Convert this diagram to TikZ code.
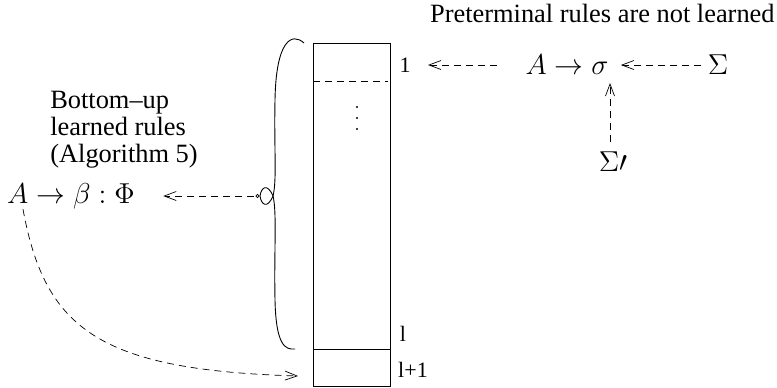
\documentclass[tikz,border=0pt]{standalone}
\usepackage[no-math]{fontspec}
\setmainfont{Liberation Serif}
\usetikzlibrary{arrows.meta}
\usetikzlibrary{positioning}

\begin{document}
\begin{tikzpicture}[x=0.5pt,y=-0.5pt]
  \tikzstyle{link}=[dash pattern=on 3.5pt off 2.5pt,-{Straight Barb[length=6pt,width=4.5pt]},line width=0.35pt]
  \tikzstyle{rule}=[inner sep=0pt,font=\fontsize{14.4}{16}\selectfont]
  \tikzstyle{note}=[inner sep=0pt,align=left,font=\fontsize{13.2}{13.5}\selectfont]
  \tikzstyle{row}=[inner sep=0pt,font=\fontsize{11}{12}\selectfont]

  \useasboundingbox (0,0) rectangle (777,387);

  % CONSTANTS
  \def\xl{313}
  \def\xr{390}

  % Stack of rules
  \draw[line width=0.45pt] (\xl,43) rectangle (\xr,386);
  \draw[line width=0.45pt] (\xl,349) -- (\xr,349);
  \draw[dash pattern=on 3.5pt off 2.5pt,line width=0.45pt] (\xl,81) -- (\xr-2,81);
  \foreach \y in {107,118,129}
    \fill (357,\y) circle (1.2);
  \node[row] (one) at (405,65) {1};
  \node[row] (ell) at (403,334) {l};
  \node[row] (ellone) at (413,370) {l+1};

  % Brace
  \coordinate (bracetip) at (273,196);
  \draw[line width=0.45pt] (304,43) .. controls (292,32) and (276,40) .. (275,100)
    .. controls (274,150) and (277,180) .. (bracetip)
    .. controls (277,212) and (274,250) .. (275,300)
    .. controls (276,345) and (285,350) .. (295,349);
  \draw[line width=0.45pt] (bracetip) .. controls (267,182) and (261,188) .. (260,196)
    .. controls (261,204) and (267,210) .. (bracetip);
  \draw[line width=0.4pt] (257.5,196) circle (1.6);
  \coordinate (tail) at (254,196);

  % Learned rules
  \node[note] (learned) at (124,130) {Bottom--up\\learned rules\\(Algorithm 5)};
  \node[rule] (rulebeta) at (71,196) {$A\rightarrow\beta : \Phi$};
  \draw[link] (tail) -- ([xshift=14pt]rulebeta.east);
  \coordinate (cellnext) at (298,376);
  \draw[link] ([xshift=-24pt]rulebeta.south) .. controls (45,330) and (100,370) .. (cellnext);

  % Preterminal rules
  \node[note,anchor=east] (preterm) at (775,13) {Preterminal rules are not learned};
  \node[rule] (rulesigma) at (567,65) {$A\rightarrow\sigma$};
  \node[rule] (sigma) at (718,65) {$\Sigma$};
  \node[rule] (sigmap) at (613,162) {$\Sigma\prime$};
  \coordinate (toone) at (428,65);
  \coordinate (undersigma) at (610,83);
  \draw[link] ([xshift=-14pt]rulesigma.west) -- (toone);
  \draw[link] ([xshift=-3pt]sigma.west) -- ([xshift=6pt]rulesigma.east);
  \draw[link] (sigmap.north -| undersigma) ++(0,-10) -- (undersigma);

\end{tikzpicture}
\end{document}
